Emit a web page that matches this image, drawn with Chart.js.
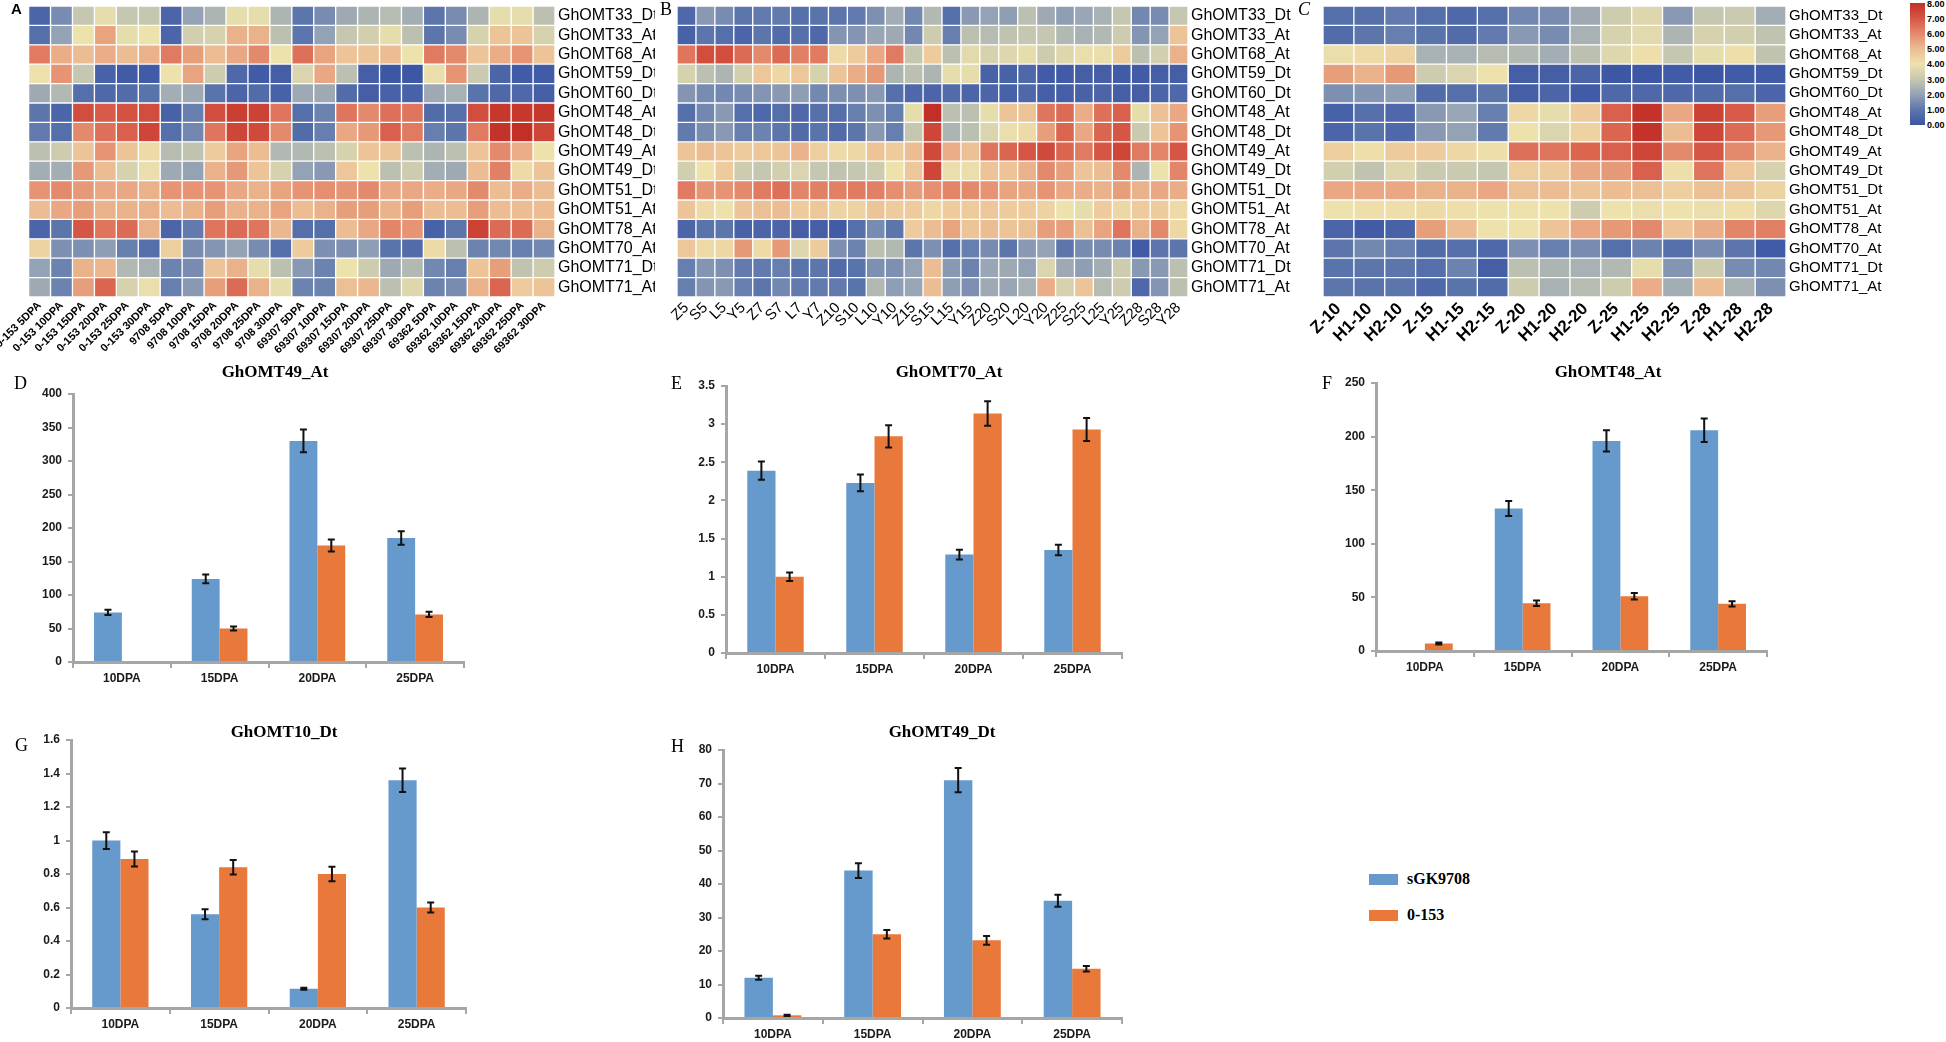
<!DOCTYPE html>
<html>
<head>
<meta charset="utf-8">
<script src="https://cdn.jsdelivr.net/npm/chart.js@4.4.0/dist/chart.umd.min.js"></script>
<style>
  body { margin: 0; background: #fff; }
  #fig { position: relative; width: 1946px; height: 1042px; overflow: hidden; background: #fff; }
  #fig canvas { position: absolute; }
  .txt { position: absolute; white-space: nowrap; color: #000; }
  .ttl { font: bold 17px "Liberation Serif", "Times New Roman", serif; text-align: center; width: 240px; line-height: 20px; }
  .let { font: 18px "Liberation Serif", "Times New Roman", serif; line-height: 20px; }
  .cbl { font: bold 9px "Liberation Sans", Arial, sans-serif; line-height: 10px; }
  .leg { font: bold 16px "Liberation Serif", "Times New Roman", serif; line-height: 18px; }
</style>
</head>
<body>
<div id="fig"></div>
<script>
// ---------- heatmap data (log2 expression, 0-8) ----------
const heatRows = ['GhOMT33_Dt','GhOMT33_At','GhOMT68_At','GhOMT59_Dt','GhOMT60_Dt','GhOMT48_At','GhOMT48_Dt',
  'GhOMT49_At','GhOMT49_Dt','GhOMT51_Dt','GhOMT51_At','GhOMT78_At','GhOMT70_At','GhOMT71_Dt','GhOMT71_At'];

const colsA = ['0-153 5DPA','0-153 10DPA','0-153 15DPA','0-153 20DPA','0-153 25DPA','0-153 30DPA',
  '9708 5DPA','9708 10DPA','9708 15DPA','9708 20DPA','9708 25DPA','9708 30DPA',
  '69307 5DPA','69307 10DPA','69307 15DPA','69307 20DPA','69307 25DPA','69307 30DPA',
  '69362 5DPA','69362 10DPA','69362 15DPA','69362 20DPA','69362 25DPA','69362 30DPA'];

const valsA = [
  [0.5,1.5,3.0,3.8,3.0,3.0,0.5,2.0,2.5,3.8,3.8,2.5,1.0,1.5,2.2,2.5,2.7,2.3,1.0,1.5,2.5,3.8,3.8,2.8],
  [0.8,2.0,4.0,5.5,3.8,4.0,0.5,3.3,3.4,5.2,5.2,2.8,1.0,2.0,3.0,3.3,3.8,2.8,1.0,1.5,3.4,4.8,4.8,3.4],
  [6.3,5.3,5.0,5.3,5.0,5.2,6.3,5.6,5.0,5.4,6.0,4.0,6.5,5.5,4.8,4.8,5.0,4.0,6.3,6.0,4.8,5.3,5.8,4.8],
  [4.0,5.8,3.0,0.4,0.2,0.2,4.0,5.5,3.2,0.6,0.2,0.3,3.5,5.4,2.8,0.3,0.1,0.1,3.9,5.8,3.1,0.5,0.2,0.2],
  [2.2,2.6,0.8,0.6,0.7,0.9,2.3,2.2,0.9,0.5,0.7,0.4,2.2,2.2,0.7,0.3,0.4,0.4,2.2,2.4,0.9,0.6,0.6,0.3],
  [1.0,0.5,7.2,6.9,7.1,7.2,0.4,1.2,7.2,7.6,7.5,6.4,0.8,1.3,6.4,6.0,6.5,6.4,0.7,0.8,7.2,7.8,7.8,7.8],
  [1.1,0.8,6.0,6.5,6.8,7.4,0.8,1.4,6.4,7.4,7.3,6.0,0.7,1.2,5.4,5.7,6.8,6.3,1.2,1.0,6.3,7.9,8.0,7.4],
  [2.8,3.2,4.8,5.8,4.8,4.2,2.7,2.9,4.6,5.5,5.0,2.6,2.6,2.8,3.4,4.8,4.8,2.8,2.5,2.8,4.8,6.0,5.3,4.0],
  [2.3,2.3,5.7,5.0,3.4,3.9,2.2,2.0,5.2,5.7,4.8,3.4,2.0,1.8,4.7,4.0,2.8,3.2,2.3,2.2,5.0,6.2,4.2,4.8],
  [5.8,6.0,5.7,5.4,5.4,5.2,5.8,5.8,5.8,5.4,5.2,5.5,5.8,5.9,5.8,6.0,5.4,5.4,5.3,5.4,6.0,5.0,5.3,5.0],
  [5.0,5.4,5.6,5.2,5.2,5.2,5.0,5.2,5.6,5.2,5.2,5.5,5.0,5.2,5.6,5.6,5.2,5.6,5.0,5.0,5.6,5.0,5.0,5.0],
  [0.5,1.0,7.0,6.4,6.6,5.2,0.5,1.1,6.4,6.6,6.4,5.1,0.8,0.8,5.0,5.4,6.1,5.8,0.4,1.0,7.5,6.6,6.6,5.2],
  [4.4,1.6,1.6,1.9,1.2,0.8,4.5,1.5,1.7,2.0,1.5,0.8,4.6,1.6,1.6,1.9,0.9,0.7,4.2,2.8,1.3,1.4,1.2,1.4],
  [2.0,1.3,5.2,5.1,2.6,2.4,1.3,1.5,4.8,5.2,3.8,2.8,1.8,1.3,4.0,3.2,2.2,2.6,1.4,1.2,4.8,5.6,2.9,3.2],
  [2.2,1.3,5.6,6.7,3.4,3.9,1.2,1.8,5.6,6.6,5.2,3.8,1.3,1.3,4.9,5.1,2.8,3.6,1.3,1.5,5.2,6.7,4.6,4.8]
];

const colsB = ['Z5','S5','L5','Y5','Z7','S7','L7','Y7','Z10','S10','L10','Y10','Z15','S15','L15','Y15',
  'Z20','S20','L20','Y20','Z25','S25','L25','Y25','Z28','S28','Y28'];

const valsB = [
  [0.6,1.8,1.5,1.0,1.1,1.1,0.8,0.9,1.0,1.1,1.6,2.3,1.4,2.6,0.8,1.8,2.0,1.9,2.8,2.2,1.9,2.1,2.4,3.0,1.4,1.5,3.0],
  [0.4,1.0,0.8,0.5,1.0,0.7,0.8,0.6,1.7,1.7,2.1,2.2,1.4,3.2,1.2,2.8,2.7,2.9,3.0,3.0,2.6,2.4,2.6,3.2,1.7,2.0,4.8],
  [6.4,7.2,7.2,6.6,6.0,6.6,6.2,6.3,4.2,4.6,5.4,6.3,3.0,4.6,2.8,3.7,3.4,3.6,3.8,3.2,3.6,3.9,3.9,4.6,2.8,3.3,5.2],
  [3.4,2.8,2.5,3.3,4.7,4.3,4.7,3.4,4.8,5.3,5.7,2.5,2.8,2.5,3.8,3.8,0.4,0.4,0.6,0.2,0.2,0.3,0.3,0.2,0.2,0.3,0.3],
  [1.7,1.5,1.4,1.5,1.7,1.8,1.9,1.4,1.6,1.6,1.8,0.8,0.6,0.5,0.7,0.5,0.5,0.4,0.6,0.3,0.3,0.4,0.5,0.3,0.3,0.5,0.6],
  [0.8,1.4,1.8,0.8,0.6,0.8,0.6,0.8,0.8,1.2,1.6,1.2,3.8,8.0,2.8,2.8,3.8,4.8,4.8,6.4,6.6,5.3,6.5,6.8,3.8,4.9,5.4],
  [1.1,1.5,1.8,1.2,1.3,1.0,0.7,0.9,0.7,1.0,1.8,1.2,3.0,7.4,2.5,2.8,3.5,3.9,4.2,5.6,6.7,5.4,6.7,7.0,3.1,4.8,5.8],
  [4.8,5.0,4.8,4.6,4.7,4.8,5.2,4.5,4.2,4.3,4.8,4.6,5.0,7.3,5.3,4.9,6.4,6.7,7.0,7.3,6.7,6.3,7.0,7.4,6.3,6.1,7.0],
  [3.3,4.0,4.6,3.2,3.0,3.3,3.5,3.0,2.9,3.0,3.2,4.0,4.7,7.4,3.9,3.9,4.8,4.8,5.2,6.0,5.6,4.8,5.0,6.0,2.5,4.0,6.1],
  [6.3,5.8,5.8,6.0,6.3,6.5,6.1,6.2,6.2,6.3,6.2,5.9,5.6,5.9,6.1,6.0,5.8,5.5,5.4,5.8,5.4,5.3,5.2,5.6,5.2,5.4,5.3],
  [4.8,4.2,4.0,4.8,4.9,5.0,4.6,4.7,4.4,4.4,4.8,4.6,4.6,4.3,4.6,4.6,4.7,4.6,4.6,4.4,4.0,3.8,4.6,4.3,4.6,4.6,4.2],
  [0.5,0.9,1.0,0.4,0.5,0.5,0.3,0.3,0.2,0.8,1.5,1.0,4.6,5.0,5.5,4.8,5.0,4.8,4.9,5.6,5.6,4.9,5.5,6.4,5.2,6.0,4.3],
  [4.7,4.2,4.3,5.7,4.2,5.7,3.6,4.6,1.6,1.3,2.8,2.6,1.0,1.6,0.8,1.2,1.5,1.0,1.8,2.0,1.0,1.5,1.5,1.3,0.2,1.0,1.0],
  [1.2,1.7,1.6,1.1,1.1,1.2,0.9,1.0,0.7,0.9,1.6,1.6,2.0,5.0,1.8,1.3,2.1,2.2,2.0,3.5,2.2,1.9,2.3,3.2,1.8,1.8,2.8],
  [1.2,1.7,1.8,1.2,1.0,1.4,1.1,1.1,1.1,0.9,2.6,1.9,2.1,5.0,1.9,1.6,2.2,2.1,2.4,5.3,3.4,4.8,2.7,3.2,0.6,1.7,2.8]
];

const colsC = ['Z-10','H1-10','H2-10','Z-15','H1-15','H2-15','Z-20','H1-20','H2-20','Z-25','H1-25','H2-25','Z-28','H1-28','H2-28'];

const valsC = [
  [0.8,0.8,1.1,0.8,0.6,0.8,1.4,1.5,2.2,3.2,3.6,1.8,3.0,3.1,2.3],
  [0.7,1.0,1.2,0.9,0.7,1.1,1.8,1.5,2.4,3.4,3.7,2.5,3.4,3.3,2.9],
  [3.9,4.2,4.4,2.4,2.4,2.7,2.6,2.3,2.8,3.6,4.1,3.0,3.8,4.1,2.9],
  [5.6,5.2,5.7,3.2,3.5,4.0,0.3,0.3,0.5,0.1,0.1,0.2,0.1,0.2,0.2],
  [1.6,1.7,1.9,0.7,0.8,1.0,0.3,0.5,0.2,0.6,0.6,0.6,0.7,0.8,0.5],
  [0.4,0.8,0.6,1.8,2.1,1.2,4.3,3.8,4.6,6.8,7.9,5.4,7.5,6.9,5.6],
  [0.5,0.9,0.6,1.8,2.0,1.1,4.0,3.5,4.4,6.7,7.9,5.0,7.4,6.6,5.7],
  [4.5,4.1,4.6,4.6,4.3,4.1,6.5,6.4,6.7,6.8,7.4,6.0,7.0,6.0,5.2],
  [3.3,2.9,3.6,3.1,3.1,3.0,4.5,4.6,5.4,5.7,6.8,4.1,6.4,4.7,3.4],
  [5.4,5.4,5.4,5.2,5.2,5.4,4.9,5.0,4.8,5.0,4.9,4.5,4.9,4.8,4.4],
  [4.0,4.1,4.1,4.2,4.1,4.0,4.0,4.0,3.2,4.0,3.9,4.0,3.9,4.1,3.6],
  [0.5,0.2,0.4,5.6,5.0,4.0,4.0,4.8,5.4,5.7,6.0,4.8,5.3,6.1,6.2],
  [1.0,1.4,1.2,0.7,0.8,0.6,1.6,1.2,1.5,0.8,1.3,0.8,1.5,1.0,0.2],
  [0.9,1.0,1.0,0.8,1.3,0.3,2.8,2.5,2.4,2.6,3.8,1.7,3.2,1.5,1.4],
  [1.0,0.9,1.0,0.6,0.9,0.7,3.2,2.4,2.7,3.2,5.3,2.3,5.0,2.4,1.6]
];

const cbTicks = ['8.00','7.00','6.00','5.00','4.00','3.00','2.00','1.00','0.00'];

// ---------- qRT-PCR bar data ----------
const dpaLabels = ['10DPA', '15DPA', '20DPA', '25DPA'];
const seriesNames = ['sGK9708', '0-153'];

const omt49At_sgk = [74, 124, 330, 185];
const omt49At_sgkErr = [4, 6.5, 17, 10];
const omt49At_o153 = [0, 50, 174, 71];
const omt49At_o153Err = [null, 3, 9, 4];

const omt70At_sgk = [2.39, 2.23, 1.29, 1.35];
const omt70At_sgkErr = [0.12, 0.11, 0.065, 0.07];
const omt70At_o153 = [1.0, 2.84, 3.14, 2.93];
const omt70At_o153Err = [0.055, 0.145, 0.16, 0.15];

const omt48At_sgk = [0, 133, 196, 206];
const omt48At_sgkErr = [null, 7, 10, 11];
const omt48At_o153 = [7, 44.5, 51, 44];
const omt48At_o153Err = [1, 2.5, 3, 2.5];

const omt10Dt_sgk = [1.0, 0.56, 0.115, 1.36];
const omt10Dt_sgkErr = [0.05, 0.03, 0.006, 0.07];
const omt10Dt_o153 = [0.89, 0.84, 0.8, 0.6];
const omt10Dt_o153Err = [0.045, 0.043, 0.043, 0.03];

const omt49Dt_sgk = [12, 44, 71, 35];
const omt49Dt_sgkErr = [0.6, 2.2, 3.6, 1.8];
const omt49Dt_o153 = [0.8, 25, 23.2, 14.7];
const omt49Dt_o153Err = [0.2, 1.3, 1.3, 0.8];

// ---------- styles ----------
const BLUE = '#6699cc';
const ORANGE = '#e8793a';
const AXIS = '#a6a6a6';
const SANS = '"Liberation Sans", Arial, sans-serif';
const heatStops = [
  [0, [59, 84, 164]], [1, [92, 118, 172]], [2, [148, 162, 181]], [3, [198, 199, 176]],
  [4, [238, 226, 172]], [5, [236, 188, 146]], [6, [228, 138, 108]], [7, [213, 86, 68]], [8, [194, 47, 38]]
];

function heatColor(v) {
  v = Math.max(0, Math.min(8, v));
  const i = Math.min(7, Math.floor(v));
  const t = v - i;
  const a = heatStops[i][1], b = heatStops[i + 1][1];
  const c = a.map((x, k) => Math.round(x + (b[k] - x) * t));
  return `rgb(${c[0]},${c[1]},${c[2]})`;
}

const fig = document.getElementById('fig');

function addCanvas(box) {
  const cv = document.createElement('canvas');
  cv.width = box.w; cv.height = box.h;
  cv.style.left = box.l + 'px'; cv.style.top = box.t + 'px';
  cv.style.width = box.w + 'px'; cv.style.height = box.h + 'px';
  fig.appendChild(cv);
  return cv;
}

function addText(cls, text, l, t, extra) {
  const d = document.createElement('div');
  d.className = 'txt ' + cls;
  d.textContent = text;
  d.style.left = l + 'px'; d.style.top = t + 'px';
  if (extra) Object.assign(d.style, extra);
  fig.appendChild(d);
  return d;
}

// ---------- heatmaps: horizontal stacked bars, one cell per row/column ----------
function heatmap(box, area, cols, vals, rowFont, colFont) {
  const cv = addCanvas(box);
  const datasets = cols.map((c, ci) => ({
    label: c,
    data: heatRows.map(() => 1),
    backgroundColor: ctx => heatColor(vals[ctx.dataIndex][ci]),
    borderColor: '#ffffff',
    borderWidth: 1,
    borderSkipped: false,
    barPercentage: 1,
    categoryPercentage: 1
  }));
  new Chart(cv, {
    type: 'bar',
    data: { labels: heatRows, datasets },
    options: {
      indexAxis: 'y',
      responsive: false,
      animation: false,
      layout: { padding: { left: area.l - box.l, top: area.t - box.t, right: 0, bottom: 0 } },
      plugins: { legend: { display: false }, tooltip: { enabled: false } },
      scales: {
        x: { type: 'linear', stacked: true, min: 0, max: cols.length, display: false },
        x2: {
          type: 'category', labels: cols, position: 'bottom', offset: true,
          grid: { display: false, drawTicks: false }, border: { display: false },
          ticks: { autoSkip: false, minRotation: 45, maxRotation: 45, padding: 2, color: '#000', font: colFont },
          afterFit: s => { s.height = box.t + box.h - area.b; s.paddingLeft = 0; s.paddingRight = 0; }
        },
        y: {
          type: 'category', stacked: true, position: 'right', offset: true,
          grid: { display: false, drawTicks: false }, border: { display: false },
          ticks: { autoSkip: false, padding: 3, color: '#000', font: rowFont },
          afterFit: s => { s.width = box.l + box.w - area.r; s.paddingTop = 0; s.paddingBottom = 0; }
        }
      }
    }
  });
}

heatmap({ l: 0, t: 0, w: 655, h: 362 }, { l: 28.6, r: 555, t: 6, b: 297 }, colsA, valsA,
  { family: SANS, size: 16 }, { family: SANS, size: 11, weight: 'bold' });
heatmap({ l: 660, t: 0, w: 635, h: 362 }, { l: 677, r: 1188, t: 6, b: 297 }, colsB, valsB,
  { family: SANS, size: 16 }, { family: SANS, size: 15 });
heatmap({ l: 1295, t: 0, w: 600, h: 362 }, { l: 1323, r: 1786, t: 6, b: 297 }, colsC, valsC,
  { family: SANS, size: 15 }, { family: SANS, size: 17, weight: 'bold' });

addText('', 'A', 11, 0, { font: 'bold 15px ' + SANS });
addText('let', 'B', 660, -1);
addText('let', 'C', 1298, -1, { fontStyle: 'italic' });

// colour scale
const grad = heatStops.slice().reverse().map(s => heatColor(s[0]) + ' ' + ((8 - s[0]) / 8 * 100) + '%').join(',');
const cb = document.createElement('div');
Object.assign(cb.style, { position: 'absolute', left: '1910px', top: '3px', width: '15px', height: '122px', background: `linear-gradient(to bottom, ${grad})` });
fig.appendChild(cb);
cbTicks.forEach((t, i) => addText('cbl', t, 1927, -1 + i * 15.1));

// ---------- bar charts ----------
const errorBars = {
  id: 'errorBars',
  afterDatasetsDraw(chart) {
    const { ctx, scales: { y } } = chart;
    ctx.save();
    ctx.strokeStyle = '#111';
    ctx.lineWidth = 2;
    chart.data.datasets.forEach((ds, i) => {
      chart.getDatasetMeta(i).data.forEach((bar, j) => {
        const e = ds.errors[j];
        if (e == null) return;
        const top = y.getPixelForValue(ds.data[j] + e);
        const bot = y.getPixelForValue(Math.max(0, ds.data[j] - e));
        ctx.beginPath();
        ctx.moveTo(bar.x, top); ctx.lineTo(bar.x, bot);
        ctx.moveTo(bar.x - 3.5, top); ctx.lineTo(bar.x + 3.5, top);
        ctx.moveTo(bar.x - 3.5, bot); ctx.lineTo(bar.x + 3.5, bot);
        ctx.stroke();
      });
    });
    ctx.restore();
  }
};

function barChart(box, area, ymax, step, sgk, sgkErr, o153, o153Err) {
  const cv = addCanvas(box);
  const XH = 28;
  const tickFont = { family: SANS, size: 12, weight: 'bold' };
  new Chart(cv, {
    type: 'bar',
    data: {
      labels: dpaLabels,
      datasets: [
        { label: seriesNames[0], data: sgk, errors: sgkErr, backgroundColor: BLUE, categoryPercentage: 0.57, barPercentage: 1 },
        { label: seriesNames[1], data: o153, errors: o153Err, backgroundColor: ORANGE, categoryPercentage: 0.57, barPercentage: 1 }
      ]
    },
    options: {
      responsive: false,
      animation: false,
      layout: { padding: { left: 0, top: area.t - box.t, right: box.l + box.w - area.r, bottom: box.t + box.h - area.b - XH } },
      plugins: { legend: { display: false }, tooltip: { enabled: false } },
      scales: {
        x: {
          grid: { drawOnChartArea: false, color: AXIS, lineWidth: 2, tickLength: 6, offset: true },
          border: { color: AXIS, width: 3 },
          ticks: { color: '#1a1a1a', font: tickFont, padding: 3 },
          afterFit: s => { s.height = XH; s.paddingLeft = 0; s.paddingRight = 0; }
        },
        y: {
          min: 0, max: ymax,
          grid: { drawOnChartArea: false, color: AXIS, lineWidth: 2, tickLength: 5 },
          border: { color: AXIS, width: 3 },
          ticks: { stepSize: step, color: '#1a1a1a', font: tickFont, padding: 6, callback: v => String(+v.toFixed(2)) },
          afterFit: s => { s.width = area.l - box.l; s.paddingTop = 0; s.paddingBottom = 0; }
        }
      }
    },
    plugins: [errorBars]
  });
}

function panel(letter, lx, ly, title, tx, ty) {
  addText('let', letter, lx, ly);
  addText('ttl', title, tx - 120, ty - 10);
}

barChart({ l: 0, t: 380, w: 490, h: 320 }, { l: 73, r: 464, t: 394, b: 662 }, 400, 50,
  omt49At_sgk, omt49At_sgkErr, omt49At_o153, omt49At_o153Err);
panel('D', 14, 373, 'GhOMT49_At', 275, 372);

barChart({ l: 660, t: 376, w: 480, h: 320 }, { l: 726, r: 1122, t: 386, b: 653 }, 3.5, 0.5,
  omt70At_sgk, omt70At_sgkErr, omt70At_o153, omt70At_o153Err);
panel('E', 671, 373, 'GhOMT70_At', 949, 372);

barChart({ l: 1300, t: 376, w: 490, h: 320 }, { l: 1376, r: 1767, t: 383, b: 651 }, 250, 50,
  omt48At_sgk, omt48At_sgkErr, omt48At_o153, omt48At_o153Err);
panel('F', 1322, 373, 'GhOMT48_At', 1608, 372);

barChart({ l: 0, t: 730, w: 490, h: 312 }, { l: 71, r: 466, t: 740, b: 1008 }, 1.6, 0.2,
  omt10Dt_sgk, omt10Dt_sgkErr, omt10Dt_o153, omt10Dt_o153Err);
panel('G', 15, 735, 'GhOMT10_Dt', 284, 732);

barChart({ l: 660, t: 740, w: 480, h: 302 }, { l: 723, r: 1122, t: 750, b: 1018 }, 80, 10,
  omt49Dt_sgk, omt49Dt_sgkErr, omt49Dt_o153, omt49Dt_o153Err);
panel('H', 671, 736, 'GhOMT49_Dt', 942, 732);

// shared legend
[[BLUE, 874], [ORANGE, 910]].forEach(([col, y], i) => {
  const sw = document.createElement('div');
  Object.assign(sw.style, { position: 'absolute', left: '1369px', top: y + 'px', width: '29px', height: '11px', background: col });
  fig.appendChild(sw);
  addText('leg', seriesNames[i], 1407, y - 4);
});
</script>
</body>
</html>
